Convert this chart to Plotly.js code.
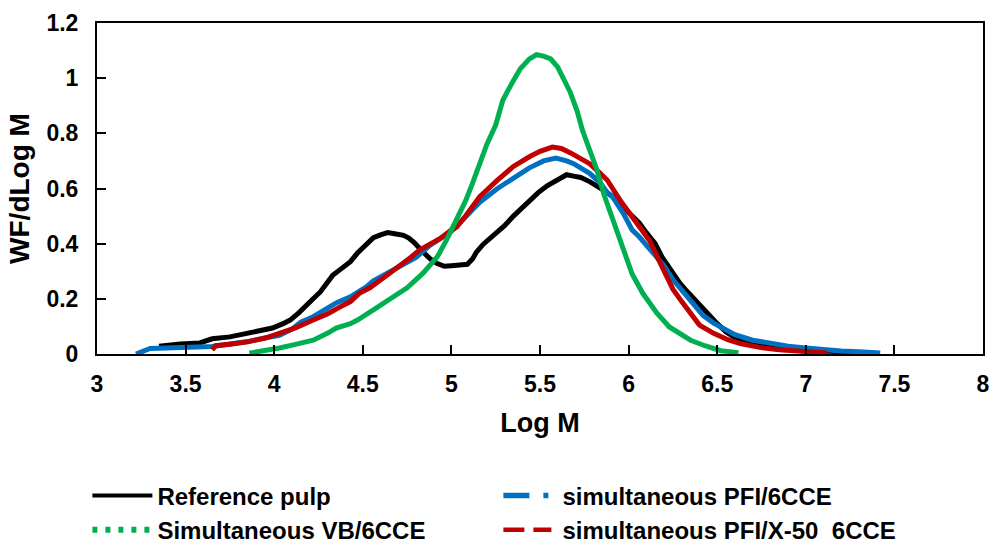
<!DOCTYPE html>
<html>
<head>
<meta charset="utf-8">
<script src="https://cdn.plot.ly/plotly-3.0.1.min.js"></script>
<style>html,body{margin:0;padding:0;background:#fff;}#chart{width:993px;height:543px;}</style>
</head>
<body>
<div id="chart"></div>
<script>
// Series names
const seriesNames = ["Reference pulp", "simultaneous PFI/6CCE", "Simultaneous VB/6CCE", "simultaneous PFI/X-50  6CCE"];

// Reference pulp (black)
const refX = [3.35,3.37,3.47,3.58,3.65,3.75,3.85,3.92,3.99,4.05,4.09,4.14,4.18,4.22,4.26,4.30,4.33,4.37,4.43,4.47,4.52,4.56,4.60,4.64,4.68,4.73,4.76,4.79,4.84,4.88,4.92,4.96,5.00,5.04,5.09,5.12,5.14,5.18,5.22,5.26,5.30,5.35,5.40,5.44,5.49,5.54,5.59,5.65,5.69,5.73,5.78,5.82,5.87,5.91,5.96,6.01,6.06,6.10,6.15,6.19,6.24,6.29,6.34,6.39,6.44,6.50,6.55,6.60,6.70,6.80,6.90,7.00,7.10,7.20,7.30,7.40];
const refY = [0.028,0.030,0.036,0.040,0.055,0.062,0.075,0.082,0.094,0.110,0.123,0.150,0.178,0.200,0.225,0.260,0.285,0.305,0.335,0.366,0.400,0.422,0.432,0.440,0.436,0.430,0.420,0.404,0.370,0.345,0.328,0.318,0.320,0.322,0.325,0.345,0.368,0.398,0.420,0.440,0.465,0.500,0.530,0.560,0.585,0.610,0.630,0.650,0.645,0.640,0.625,0.610,0.590,0.570,0.540,0.510,0.475,0.440,0.400,0.350,0.300,0.256,0.220,0.184,0.148,0.110,0.080,0.060,0.040,0.028,0.020,0.014,0.010,0.007,0.004,0.002];

// simultaneous PFI/6CCE (blue)
const pfiX = [3.22,3.26,3.30,3.39,3.47,3.56,3.65,3.75,3.85,3.96,4.03,4.10,4.15,4.22,4.28,4.35,4.43,4.52,4.56,4.62,4.71,4.80,4.88,4.94,5.00,5.07,5.16,5.26,5.35,5.44,5.52,5.59,5.65,5.69,5.78,5.84,5.88,5.91,5.97,6.02,6.06,6.14,6.20,6.25,6.31,6.37,6.42,6.48,6.55,6.60,6.70,6.80,6.90,7.00,7.10,7.20,7.30,7.42];
const pfiY = [0.000,0.012,0.020,0.022,0.025,0.025,0.027,0.035,0.045,0.060,0.068,0.090,0.115,0.135,0.160,0.185,0.207,0.243,0.265,0.285,0.316,0.350,0.395,0.420,0.445,0.490,0.550,0.600,0.640,0.675,0.700,0.710,0.700,0.690,0.655,0.620,0.585,0.570,0.510,0.450,0.425,0.366,0.320,0.270,0.225,0.184,0.140,0.112,0.085,0.070,0.050,0.037,0.028,0.022,0.015,0.011,0.008,0.004];

// Simultaneous VB/6CCE (green)
const vbX = [3.86,3.95,4.03,4.12,4.22,4.30,4.35,4.43,4.47,4.56,4.65,4.75,4.84,4.92,4.97,5.03,5.08,5.12,5.16,5.20,5.25,5.29,5.34,5.39,5.44,5.48,5.52,5.56,5.60,5.64,5.67,5.71,5.74,5.78,5.82,5.86,5.91,5.97,6.02,6.08,6.16,6.23,6.30,6.35,6.43,6.52,6.62];
const vbY = [0.003,0.012,0.022,0.035,0.050,0.075,0.094,0.110,0.123,0.160,0.196,0.240,0.293,0.352,0.410,0.490,0.555,0.620,0.690,0.760,0.830,0.920,0.980,1.035,1.070,1.085,1.080,1.070,1.040,0.990,0.950,0.880,0.810,0.740,0.670,0.580,0.490,0.377,0.290,0.220,0.148,0.098,0.068,0.050,0.030,0.012,0.005];

// simultaneous PFI/X-50 6CCE (red)
const x50X = [3.65,3.67,3.75,3.85,3.95,4.03,4.12,4.22,4.30,4.37,4.43,4.48,4.54,4.60,4.66,4.71,4.77,4.82,4.88,4.94,5.00,5.03,5.08,5.16,5.26,5.35,5.44,5.50,5.57,5.62,5.67,5.73,5.78,5.84,5.88,5.96,6.06,6.12,6.16,6.25,6.30,6.35,6.40,6.48,6.56,6.63,6.74,6.85,6.95,7.05,7.12];
const x50Y = [0.015,0.030,0.035,0.044,0.058,0.075,0.095,0.123,0.145,0.170,0.190,0.220,0.240,0.268,0.295,0.323,0.350,0.377,0.400,0.420,0.450,0.460,0.500,0.570,0.630,0.680,0.715,0.735,0.750,0.745,0.730,0.710,0.690,0.655,0.630,0.550,0.460,0.410,0.355,0.235,0.190,0.148,0.105,0.075,0.052,0.038,0.024,0.015,0.010,0.006,0.004];

const colors = ["#000000", "#0070C0", "#00B050", "#C00000"];
const FONT = "Liberation Sans, Arial, Helvetica, sans-serif";
const W = 5;

const data = [
  {x: refX, y: refY, mode: "lines", line: {color: colors[0], width: W}, showlegend: false, hoverinfo: "skip"},
  {x: pfiX, y: pfiY, mode: "lines", line: {color: colors[1], width: W}, showlegend: false, hoverinfo: "skip"},
  {x: x50X, y: x50Y, mode: "lines", line: {color: colors[3], width: W}, showlegend: false, hoverinfo: "skip"},
  {x: vbX, y: vbY, mode: "lines", line: {color: colors[2], width: W}, showlegend: false, hoverinfo: "skip"},
  // legend entries
  {x: [null], y: [null], mode: "lines", name: seriesNames[0], line: {color: colors[0], width: 4}},
  {x: [null], y: [null], mode: "lines", name: seriesNames[1], line: {color: colors[1], width: 5.5, dash: "0px,6px,26px,14px,5px,100px"}},
  {x: [null], y: [null], mode: "lines", name: seriesNames[2], line: {color: colors[2], width: 6, dash: "5px,8px"}},
  {x: [null], y: [null], mode: "lines", name: seriesNames[3], line: {color: colors[3], width: 4.5, dash: "0px,6px,21px,9px,18px,100px"}}
];

const axisCommon = {
  showgrid: false, zeroline: false, showline: true, mirror: true,
  linecolor: "#000", linewidth: 2,
  ticks: "inside", ticklen: 9, tickwidth: 2, tickcolor: "#000",
  tickfont: {family: FONT, size: 23, color: "#000", weight: "bold"}
};

const layout = {
  width: 993, height: 543,
  margin: {l: 97, r: 10, t: 23, b: 189},
  paper_bgcolor: "#fff", plot_bgcolor: "#fff",
  font: {family: FONT, color: "#000"},
  xaxis: Object.assign({}, axisCommon, {
    range: [3, 8], dtick: 0.5, tick0: 3,
    ticklabelstandoff: 8,
    title: {text: "Log M", font: {family: FONT, size: 27, color: "#000", weight: "bold"}, standoff: 18}
  }),
  yaxis: Object.assign({}, axisCommon, {
    range: [0, 1.2], dtick: 0.2, tick0: 0,
    ticklabelstandoff: 12,
    title: {text: "WF/dLog M", font: {family: FONT, size: 28, color: "#000", weight: "bold"}, standoff: 9}
  }),
  legend: {
    orientation: "h", xref: "container", yref: "container",
    x: 0.088, y: 0.128, xanchor: "left", yanchor: "top",
    entrywidth: 330, itemwidth: 60, tracegroupgap: 0,
    font: {family: FONT, size: 24, color: "#000", weight: "bold"},
    bgcolor: "rgba(0,0,0,0)"
  },
  showlegend: true
};

Plotly.newPlot("chart", data, layout, {staticPlot: true, displayModeBar: false});
</script>
</body>
</html>
